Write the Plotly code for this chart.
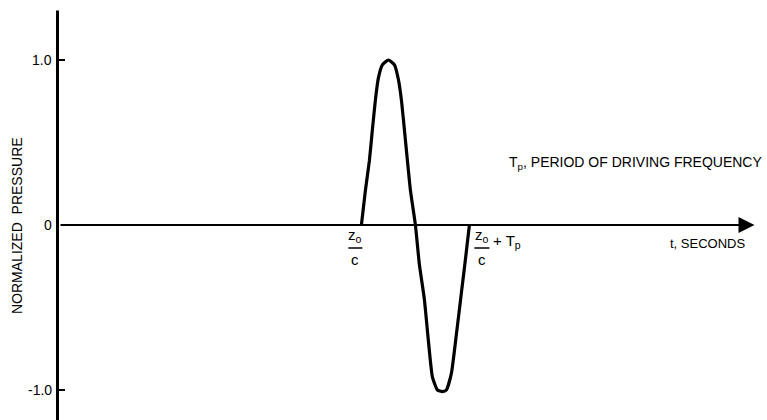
import plotly.graph_objects as go

# Time axis in units of the driving period Tp; pressure normalised to peak.
Z0C = 2.8          # arrival time z0/c
TP = 1.0           # period of driving frequency

# One cycle of the received pulse
curve_t = [2.800, 2.837, 2.874, 2.902, 2.930, 2.957, 2.994, 3.050, 3.106,
           3.143, 3.170, 3.198, 3.226, 3.254, 3.300, 3.337, 3.383, 3.420,
           3.457, 3.504, 3.550, 3.587, 3.633, 3.680, 3.726, 3.763, 3.800]
curve_p = [0.00, 0.21, 0.39, 0.58, 0.76, 0.89, 0.97, 1.00, 0.97,
           0.88, 0.76, 0.58, 0.39, 0.21, 0.00, -0.24, -0.45, -0.70,
           -0.92, -1.00, -1.01, -1.00, -0.90, -0.66, -0.41, -0.21, 0.00]

y_ticks = [1.0, 0.0, -1.0]
y_tick_labels = ["1.0", "0", "-1.0"]

T_END = 6.44       # tip of the time-axis arrow
P_TOP = 1.30       # top of the pressure axis

PX_T = 108.0       # pixels per unit of time
PX_P = 165.0       # pixels per unit of pressure
X_RANGE = [-59 / PX_T, 708 / PX_T]
Y_RANGE = [-195 / PX_P, 225 / PX_P]

FONT = "Liberation Sans"
INK = "#000000"


def dx(px):
    return px / PX_T


def dy(px):
    return px / PX_P


fig = go.Figure()

fig.add_trace(go.Scatter(
    x=curve_t, y=curve_p, mode="lines",
    line=dict(color=INK, width=3.2, shape="spline", smoothing=0.5),
    hoverinfo="skip", showlegend=False,
))

shapes = [
    # pressure axis
    dict(type="line", xref="x", yref="y", x0=-dx(1.5), x1=-dx(1.5),
         y0=Y_RANGE[0], y1=P_TOP, line=dict(color=INK, width=3)),
    # fraction bars of the z0/c labels
    dict(type="line", xref="x", yref="y", x0=Z0C - dx(13), x1=Z0C - dx(-1),
         y0=-dy(23), y1=-dy(23), line=dict(color=INK, width=1.5)),
    dict(type="line", xref="x", yref="y", x0=Z0C + TP + dx(5), x1=Z0C + TP + dx(20),
         y0=-dy(23), y1=-dy(23), line=dict(color=INK, width=1.5)),
]
# short tick marks at +1 and -1
for v in y_ticks:
    if v != 0:
        shapes.append(dict(type="line", xref="x", yref="y", x0=0, x1=dx(6),
                           y0=v, y1=v, line=dict(color=INK, width=2)))

annotations = [
    # time axis with arrowhead
    dict(x=T_END, y=0, ax=0, ay=0, xref="x", yref="y", axref="x", ayref="y",
         text="", showarrow=True, arrowhead=2, arrowsize=1.6, arrowwidth=2,
         arrowcolor=INK),
]

for v, lab in zip(y_ticks, y_tick_labels):
    annotations.append(dict(x=0, y=v, xref="x", yref="y", text=lab,
                            showarrow=False, xanchor="right", yanchor="middle",
                            xshift=-5, font=dict(family=FONT, size=14, color=INK)))

lab_font = dict(family=FONT, size=15, color=INK)
annotations += [
    dict(x=17 / 767, y=1 - 226 / 420, xref="paper", yref="paper",
         text="NORMALIZED  PRESSURE",
         textangle=-90, showarrow=False, xanchor="center", yanchor="middle",
         font=dict(family=FONT, size=14, color=INK)),
    # z0/c under the start of the pulse
    dict(x=Z0C - dx(6), y=-dy(22), xref="x", yref="y", text="z<sub>o</sub>",
         showarrow=False, xanchor="center", yanchor="bottom", font=lab_font),
    dict(x=Z0C - dx(6), y=-dy(24), xref="x", yref="y", text="c",
         showarrow=False, xanchor="center", yanchor="top", font=lab_font),
    # z0/c + Tp under the end of the pulse
    dict(x=Z0C + TP + dx(12.5), y=-dy(22), xref="x", yref="y", text="z<sub>o</sub>",
         showarrow=False, xanchor="center", yanchor="bottom", font=lab_font),
    dict(x=Z0C + TP + dx(12.5), y=-dy(24), xref="x", yref="y", text="c",
         showarrow=False, xanchor="center", yanchor="top", font=lab_font),
    dict(x=Z0C + TP + dx(22), y=-dy(16), xref="x", yref="y", text="+ T<sub>p</sub>",
         showarrow=False, xanchor="left", yanchor="middle", font=lab_font),
    dict(x=T_END, y=0, xref="x", yref="y", text="t, SECONDS",
         showarrow=False, xanchor="right", yanchor="top",
         xshift=-8, yshift=-9, font=dict(family=FONT, size=13, color=INK)),
    dict(x=1.0, y=1 - 163 / 420, xref="paper", yref="paper",
         text="T<sub>p</sub>, PERIOD OF DRIVING FREQUENCY",
         showarrow=False, xanchor="right", yanchor="middle",
         xshift=-3, font=dict(family=FONT, size=14, color=INK)),
]

fig.update_layout(
    width=767, height=420,
    margin=dict(l=0, r=0, t=0, b=0),
    paper_bgcolor="white", plot_bgcolor="white",
    xaxis=dict(range=X_RANGE, visible=False, fixedrange=True),
    yaxis=dict(range=Y_RANGE, visible=False, fixedrange=True),
    shapes=shapes, annotations=annotations, showlegend=False,
)

fig.write_html("out.html")
